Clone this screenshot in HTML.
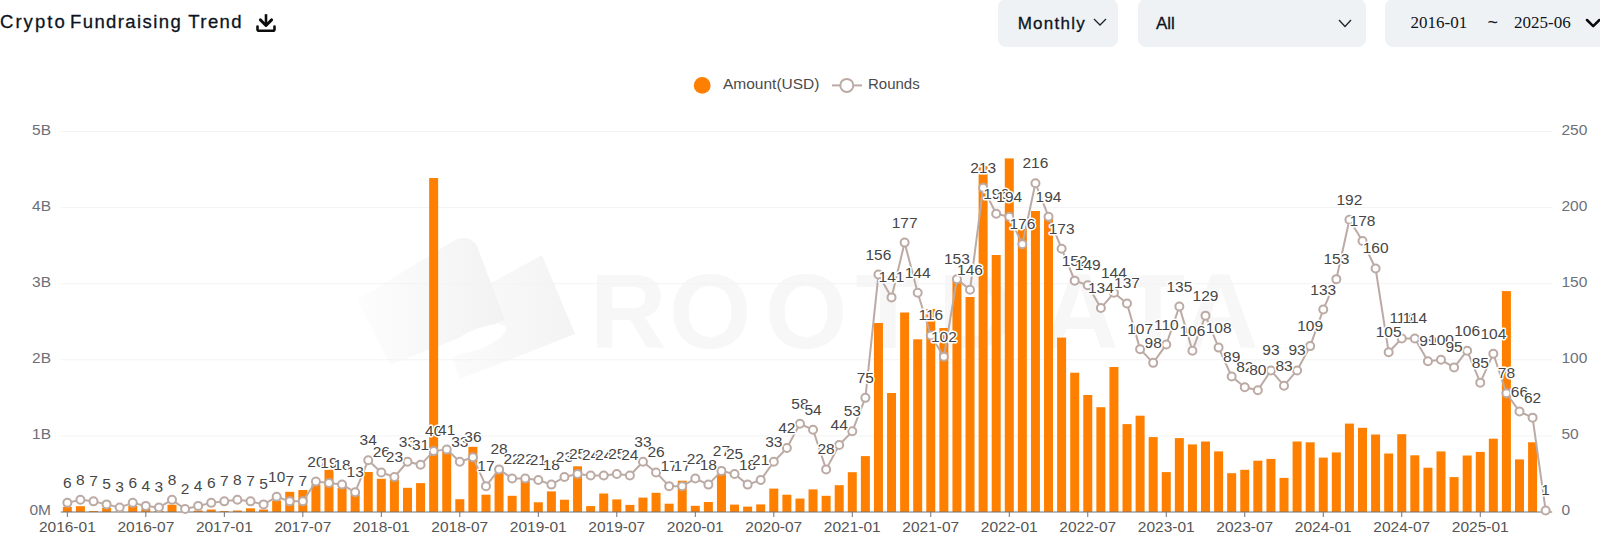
<!DOCTYPE html>
<html><head><meta charset="utf-8"><title>Crypto Fundraising Trend</title>
<style>
html,body{margin:0;padding:0;background:#fff;}
body{width:1600px;height:543px;position:relative;overflow:hidden;font-family:"Liberation Sans",sans-serif;}
.title{position:absolute;left:0px;top:11px;font-size:18.5px;line-height:22px;color:#0c1421;white-space:nowrap;letter-spacing:1.4px;-webkit-text-stroke:0.3px #0c1421}
.dl{position:absolute;left:255px;top:12px;width:22px;height:21px}
.sel{position:absolute;top:-1px;height:48px;background:#eff2f5;border-radius:8px;box-sizing:border-box;color:#0c1421;font-size:17px;line-height:48px;white-space:nowrap}
.sel span{position:absolute;top:0.5px;-webkit-text-stroke:0.3px #0c1421}
.sel svg{position:absolute}
.serif{font-family:"Liberation Serif",serif;font-size:17px;-webkit-text-stroke:0 !important;margin-top:-1px}
</style></head><body>
<div class="title"><span style="letter-spacing:2.05px">Crypto</span><span style="margin-left:-3.3px"> Fundraising Trend</span></div>
<svg class="dl" viewBox="0 0 22 21"><path d="M11 2.2 V12" fill="none" stroke="#0c0c0c" stroke-width="2.6"/><path d="M5.4 7.9 L11 13.5 L16.6 7.9" fill="none" stroke="#0c0c0c" stroke-width="2.9" stroke-linecap="round" stroke-linejoin="round"/><path d="M2.5 14.5 V17.2 Q2.5 18.7 4 18.7 H18 Q19.5 18.7 19.5 17.2 V14.5" fill="none" stroke="#0c0c0c" stroke-width="2.6" stroke-linecap="round" stroke-linejoin="round"/></svg>
<div class="sel" style="left:998.2px;width:120.2px"><span style="left:19.5px;letter-spacing:1.25px">Monthly</span><svg style="left:94.6px;top:19.4px" width="14" height="8" viewBox="0 0 14 8"><path d="M1 1 L7 7 L13 1" fill="none" stroke="#1c2430" stroke-width="1.3"/></svg></div>
<div class="sel" style="left:1138px;width:227.5px"><span style="left:18px">All</span><svg style="left:200px;top:19.5px" width="14" height="9" viewBox="0 0 14 9"><path d="M1 1 L7 7.5 L13 1" fill="none" stroke="#1c2430" stroke-width="1.3"/></svg></div>
<div class="sel" style="left:1385px;width:260px"><span class="serif" style="left:25.5px">2016-01</span><span style="left:102.5px;font-size:18px;-webkit-text-stroke:0;margin-top:-1.5px">~</span><span class="serif" style="left:129px">2025-06</span><svg style="left:200px;top:18px" width="20" height="12" viewBox="0 0 20 12"><path d="M2 3 L8.2 9.2 L14.4 3" fill="none" stroke="#0a0a0a" stroke-width="2.5" stroke-linecap="round" stroke-linejoin="round"/></svg></div>
<svg id="chart" width="1600" height="543" viewBox="0 0 1600 543" style="position:absolute;left:0;top:0">
<defs><linearGradient id="g1" x1="0" x2="1" y1="0" y2="0"><stop offset="0" stop-color="#fdfdfd"/><stop offset="1" stop-color="#f2f2f2"/></linearGradient><linearGradient id="g2" x1="0" x2="1" y1="0" y2="0"><stop offset="0" stop-color="#fbfbfb"/><stop offset="1" stop-color="#f3f3f3"/></linearGradient></defs>
<g id="wm"><path d="M491 283 L542 255 L575 334 L460 379 L452 358 L500 330 Z" fill="url(#g2)"/><path d="M357 300 L455 240 Q470 234 477 246 L505 320 L390 365 Z" fill="url(#g1)"/><ellipse cx="478" cy="339" rx="30" ry="10" transform="rotate(-22 478 339)" fill="#fff"/><text x="590 669 765 855.6 938 1042 1120.6 1182" y="347.5" font-family="Liberation Sans, sans-serif" font-weight="bold" font-size="106" fill="#f7f7f7">ROOTDATA</text></g>
<line x1="60.8" x2="1552.2" y1="435.90" y2="435.90" stroke="#f3f3f5" stroke-width="1"/>
<line x1="60.8" x2="1552.2" y1="359.80" y2="359.80" stroke="#f3f3f5" stroke-width="1"/>
<line x1="60.8" x2="1552.2" y1="283.70" y2="283.70" stroke="#f3f3f5" stroke-width="1"/>
<line x1="60.8" x2="1552.2" y1="207.60" y2="207.60" stroke="#f3f3f5" stroke-width="1"/>
<line x1="60.8" x2="1552.2" y1="131.50" y2="131.50" stroke="#f3f3f5" stroke-width="1"/>
<g fill="#ff8000">
<rect x="62.84" y="507.00" width="9.0" height="5.00"/>
<rect x="75.92" y="506.20" width="9.0" height="5.80"/>
<rect x="89.01" y="511.00" width="9.0" height="1.00"/>
<rect x="102.09" y="508.00" width="9.0" height="4.00"/>
<rect x="115.17" y="511.50" width="9.0" height="0.50"/>
<rect x="128.25" y="506.00" width="9.0" height="6.00"/>
<rect x="141.34" y="509.00" width="9.0" height="3.00"/>
<rect x="154.42" y="511.00" width="9.0" height="1.00"/>
<rect x="167.50" y="504.70" width="9.0" height="7.30"/>
<rect x="193.67" y="510.50" width="9.0" height="1.50"/>
<rect x="206.75" y="509.50" width="9.0" height="2.50"/>
<rect x="219.83" y="511.00" width="9.0" height="1.00"/>
<rect x="232.91" y="510.50" width="9.0" height="1.50"/>
<rect x="246.00" y="508.30" width="9.0" height="3.70"/>
<rect x="259.08" y="509.50" width="9.0" height="2.50"/>
<rect x="272.16" y="500.50" width="9.0" height="11.50"/>
<rect x="285.24" y="491.80" width="9.0" height="20.20"/>
<rect x="298.33" y="490.00" width="9.0" height="22.00"/>
<rect x="311.41" y="484.50" width="9.0" height="27.50"/>
<rect x="324.49" y="469.70" width="9.0" height="42.30"/>
<rect x="337.57" y="488.00" width="9.0" height="24.00"/>
<rect x="350.66" y="494.50" width="9.0" height="17.50"/>
<rect x="363.74" y="472.00" width="9.0" height="40.00"/>
<rect x="376.82" y="478.80" width="9.0" height="33.20"/>
<rect x="389.90" y="479.70" width="9.0" height="32.30"/>
<rect x="402.99" y="487.80" width="9.0" height="24.20"/>
<rect x="416.07" y="483.10" width="9.0" height="28.90"/>
<rect x="429.15" y="178.00" width="9.0" height="334.00"/>
<rect x="442.23" y="451.00" width="9.0" height="61.00"/>
<rect x="455.31" y="499.20" width="9.0" height="12.80"/>
<rect x="468.40" y="446.80" width="9.0" height="65.20"/>
<rect x="481.48" y="494.70" width="9.0" height="17.30"/>
<rect x="494.56" y="472.80" width="9.0" height="39.20"/>
<rect x="507.64" y="495.80" width="9.0" height="16.20"/>
<rect x="520.73" y="479.80" width="9.0" height="32.20"/>
<rect x="533.81" y="502.30" width="9.0" height="9.70"/>
<rect x="546.89" y="491.40" width="9.0" height="20.60"/>
<rect x="559.97" y="499.70" width="9.0" height="12.30"/>
<rect x="573.06" y="466.30" width="9.0" height="45.70"/>
<rect x="586.14" y="506.10" width="9.0" height="5.90"/>
<rect x="599.22" y="493.50" width="9.0" height="18.50"/>
<rect x="612.30" y="499.40" width="9.0" height="12.60"/>
<rect x="625.39" y="504.90" width="9.0" height="7.10"/>
<rect x="638.47" y="497.60" width="9.0" height="14.40"/>
<rect x="651.55" y="492.80" width="9.0" height="19.20"/>
<rect x="664.63" y="503.70" width="9.0" height="8.30"/>
<rect x="677.72" y="480.70" width="9.0" height="31.30"/>
<rect x="690.80" y="505.80" width="9.0" height="6.20"/>
<rect x="703.88" y="502.00" width="9.0" height="10.00"/>
<rect x="716.96" y="474.10" width="9.0" height="37.90"/>
<rect x="730.05" y="504.60" width="9.0" height="7.40"/>
<rect x="743.13" y="506.60" width="9.0" height="5.40"/>
<rect x="756.21" y="504.40" width="9.0" height="7.60"/>
<rect x="769.29" y="488.60" width="9.0" height="23.40"/>
<rect x="782.38" y="494.70" width="9.0" height="17.30"/>
<rect x="795.46" y="498.60" width="9.0" height="13.40"/>
<rect x="808.54" y="489.40" width="9.0" height="22.60"/>
<rect x="821.62" y="495.80" width="9.0" height="16.20"/>
<rect x="834.71" y="485.20" width="9.0" height="26.80"/>
<rect x="847.79" y="472.20" width="9.0" height="39.80"/>
<rect x="860.87" y="456.10" width="9.0" height="55.90"/>
<rect x="873.95" y="323.00" width="9.0" height="189.00"/>
<rect x="887.04" y="393.00" width="9.0" height="119.00"/>
<rect x="900.12" y="312.50" width="9.0" height="199.50"/>
<rect x="913.20" y="339.30" width="9.0" height="172.70"/>
<rect x="926.28" y="309.00" width="9.0" height="203.00"/>
<rect x="939.37" y="328.00" width="9.0" height="184.00"/>
<rect x="952.45" y="281.00" width="9.0" height="231.00"/>
<rect x="965.53" y="297.00" width="9.0" height="215.00"/>
<rect x="978.61" y="166.00" width="9.0" height="346.00"/>
<rect x="991.70" y="255.00" width="9.0" height="257.00"/>
<rect x="1004.78" y="158.40" width="9.0" height="353.60"/>
<rect x="1017.86" y="229.00" width="9.0" height="283.00"/>
<rect x="1030.94" y="211.00" width="9.0" height="301.00"/>
<rect x="1044.03" y="219.00" width="9.0" height="293.00"/>
<rect x="1057.11" y="337.60" width="9.0" height="174.40"/>
<rect x="1070.19" y="372.70" width="9.0" height="139.30"/>
<rect x="1083.27" y="395.00" width="9.0" height="117.00"/>
<rect x="1096.36" y="407.20" width="9.0" height="104.80"/>
<rect x="1109.44" y="367.00" width="9.0" height="145.00"/>
<rect x="1122.52" y="424.10" width="9.0" height="87.90"/>
<rect x="1135.60" y="415.70" width="9.0" height="96.30"/>
<rect x="1148.69" y="437.10" width="9.0" height="74.90"/>
<rect x="1161.77" y="472.10" width="9.0" height="39.90"/>
<rect x="1174.85" y="438.10" width="9.0" height="73.90"/>
<rect x="1187.93" y="444.40" width="9.0" height="67.60"/>
<rect x="1201.01" y="441.50" width="9.0" height="70.50"/>
<rect x="1214.10" y="451.40" width="9.0" height="60.60"/>
<rect x="1227.18" y="473.20" width="9.0" height="38.80"/>
<rect x="1240.26" y="469.80" width="9.0" height="42.20"/>
<rect x="1253.34" y="460.70" width="9.0" height="51.30"/>
<rect x="1266.43" y="458.90" width="9.0" height="53.10"/>
<rect x="1279.51" y="477.90" width="9.0" height="34.10"/>
<rect x="1292.59" y="441.50" width="9.0" height="70.50"/>
<rect x="1305.67" y="442.30" width="9.0" height="69.70"/>
<rect x="1318.76" y="457.60" width="9.0" height="54.40"/>
<rect x="1331.84" y="452.40" width="9.0" height="59.60"/>
<rect x="1344.92" y="423.60" width="9.0" height="88.40"/>
<rect x="1358.00" y="427.80" width="9.0" height="84.20"/>
<rect x="1371.09" y="434.50" width="9.0" height="77.50"/>
<rect x="1384.17" y="453.50" width="9.0" height="58.50"/>
<rect x="1397.25" y="434.20" width="9.0" height="77.80"/>
<rect x="1410.33" y="455.30" width="9.0" height="56.70"/>
<rect x="1423.42" y="467.70" width="9.0" height="44.30"/>
<rect x="1436.50" y="451.40" width="9.0" height="60.60"/>
<rect x="1449.58" y="477.10" width="9.0" height="34.90"/>
<rect x="1462.66" y="455.50" width="9.0" height="56.50"/>
<rect x="1475.75" y="451.90" width="9.0" height="60.10"/>
<rect x="1488.83" y="438.70" width="9.0" height="73.30"/>
<rect x="1501.91" y="291.10" width="9.0" height="220.90"/>
<rect x="1514.99" y="459.40" width="9.0" height="52.60"/>
<rect x="1528.08" y="442.30" width="9.0" height="69.70"/>
</g>
<line x1="60.8" x2="1552.2" y1="512.0" y2="512.0" stroke="#6e7079" stroke-width="1"/>
<line x1="67.34" x2="67.34" y1="512.0" y2="517.0" stroke="#6e7079" stroke-width="1"/>
<line x1="145.84" x2="145.84" y1="512.0" y2="517.0" stroke="#6e7079" stroke-width="1"/>
<line x1="224.33" x2="224.33" y1="512.0" y2="517.0" stroke="#6e7079" stroke-width="1"/>
<line x1="302.83" x2="302.83" y1="512.0" y2="517.0" stroke="#6e7079" stroke-width="1"/>
<line x1="381.32" x2="381.32" y1="512.0" y2="517.0" stroke="#6e7079" stroke-width="1"/>
<line x1="459.81" x2="459.81" y1="512.0" y2="517.0" stroke="#6e7079" stroke-width="1"/>
<line x1="538.31" x2="538.31" y1="512.0" y2="517.0" stroke="#6e7079" stroke-width="1"/>
<line x1="616.80" x2="616.80" y1="512.0" y2="517.0" stroke="#6e7079" stroke-width="1"/>
<line x1="695.30" x2="695.30" y1="512.0" y2="517.0" stroke="#6e7079" stroke-width="1"/>
<line x1="773.79" x2="773.79" y1="512.0" y2="517.0" stroke="#6e7079" stroke-width="1"/>
<line x1="852.29" x2="852.29" y1="512.0" y2="517.0" stroke="#6e7079" stroke-width="1"/>
<line x1="930.78" x2="930.78" y1="512.0" y2="517.0" stroke="#6e7079" stroke-width="1"/>
<line x1="1009.28" x2="1009.28" y1="512.0" y2="517.0" stroke="#6e7079" stroke-width="1"/>
<line x1="1087.77" x2="1087.77" y1="512.0" y2="517.0" stroke="#6e7079" stroke-width="1"/>
<line x1="1166.27" x2="1166.27" y1="512.0" y2="517.0" stroke="#6e7079" stroke-width="1"/>
<line x1="1244.76" x2="1244.76" y1="512.0" y2="517.0" stroke="#6e7079" stroke-width="1"/>
<line x1="1323.26" x2="1323.26" y1="512.0" y2="517.0" stroke="#6e7079" stroke-width="1"/>
<line x1="1401.75" x2="1401.75" y1="512.0" y2="517.0" stroke="#6e7079" stroke-width="1"/>
<line x1="1480.25" x2="1480.25" y1="512.0" y2="517.0" stroke="#6e7079" stroke-width="1"/>
<g font-family="Liberation Sans, sans-serif" font-size="15.5" fill="#6e7079">
<text x="67.34" y="532.0" text-anchor="middle" fill="#555">2016-01</text>
<text x="145.84" y="532.0" text-anchor="middle" fill="#555">2016-07</text>
<text x="224.33" y="532.0" text-anchor="middle" fill="#555">2017-01</text>
<text x="302.83" y="532.0" text-anchor="middle" fill="#555">2017-07</text>
<text x="381.32" y="532.0" text-anchor="middle" fill="#555">2018-01</text>
<text x="459.81" y="532.0" text-anchor="middle" fill="#555">2018-07</text>
<text x="538.31" y="532.0" text-anchor="middle" fill="#555">2019-01</text>
<text x="616.80" y="532.0" text-anchor="middle" fill="#555">2019-07</text>
<text x="695.30" y="532.0" text-anchor="middle" fill="#555">2020-01</text>
<text x="773.79" y="532.0" text-anchor="middle" fill="#555">2020-07</text>
<text x="852.29" y="532.0" text-anchor="middle" fill="#555">2021-01</text>
<text x="930.78" y="532.0" text-anchor="middle" fill="#555">2021-07</text>
<text x="1009.28" y="532.0" text-anchor="middle" fill="#555">2022-01</text>
<text x="1087.77" y="532.0" text-anchor="middle" fill="#555">2022-07</text>
<text x="1166.27" y="532.0" text-anchor="middle" fill="#555">2023-01</text>
<text x="1244.76" y="532.0" text-anchor="middle" fill="#555">2023-07</text>
<text x="1323.26" y="532.0" text-anchor="middle" fill="#555">2024-01</text>
<text x="1401.75" y="532.0" text-anchor="middle" fill="#555">2024-07</text>
<text x="1480.25" y="532.0" text-anchor="middle" fill="#555">2025-01</text>
<text x="51" y="515.20" text-anchor="end">0M</text>
<text x="1561.5" y="515.20">0</text>
<text x="51" y="439.10" text-anchor="end">1B</text>
<text x="1561.5" y="439.10">50</text>
<text x="51" y="363.00" text-anchor="end">2B</text>
<text x="1561.5" y="363.00">100</text>
<text x="51" y="286.90" text-anchor="end">3B</text>
<text x="1561.5" y="286.90">150</text>
<text x="51" y="210.80" text-anchor="end">4B</text>
<text x="1561.5" y="210.80">200</text>
<text x="51" y="134.70" text-anchor="end">5B</text>
<text x="1561.5" y="134.70">250</text>
</g>
<path d="M67.34 502.87 L80.42 499.82 L93.51 501.35 L106.59 504.39 L119.67 507.43 L132.75 502.87 L145.84 505.91 L158.92 507.43 L172.00 499.82 L185.08 508.96 L198.17 505.91 L211.25 502.87 L224.33 501.35 L237.41 499.82 L250.50 501.35 L263.58 504.39 L276.66 496.78 L289.74 501.35 L302.83 501.35 L315.91 481.56 L328.99 483.08 L342.07 484.60 L355.16 492.21 L368.24 460.25 L381.32 472.43 L394.40 476.99 L407.49 461.77 L420.57 464.82 L433.65 451.12 L446.73 449.60 L459.81 461.77 L472.90 457.21 L485.98 486.13 L499.06 469.38 L512.14 478.52 L525.23 478.52 L538.31 480.04 L551.39 484.60 L564.47 476.99 L577.56 473.95 L590.64 475.47 L603.72 475.47 L616.80 473.95 L629.89 475.47 L642.97 461.77 L656.05 472.43 L669.13 486.13 L682.22 486.13 L695.30 478.52 L708.38 484.60 L721.46 470.91 L734.55 473.95 L747.63 484.60 L760.71 480.04 L773.79 461.77 L786.88 448.08 L799.96 423.72 L813.04 429.81 L826.12 469.38 L839.21 445.03 L852.29 431.33 L865.37 397.85 L878.45 274.57 L891.54 297.40 L904.62 242.61 L917.70 292.83 L930.78 335.45 L943.87 356.76 L956.95 279.13 L970.03 289.79 L983.11 187.81 L996.20 213.69 L1009.28 216.73 L1022.36 244.13 L1035.44 183.25 L1048.53 216.73 L1061.61 248.69 L1074.69 280.66 L1087.77 285.22 L1100.86 308.05 L1113.94 292.83 L1127.02 303.49 L1140.10 349.15 L1153.19 362.84 L1166.27 344.58 L1179.35 306.53 L1192.43 350.67 L1205.51 315.66 L1218.60 347.62 L1231.68 376.54 L1244.76 387.20 L1257.84 390.24 L1270.93 370.45 L1284.01 385.67 L1297.09 370.45 L1310.17 346.10 L1323.26 309.57 L1336.34 279.13 L1349.42 219.78 L1362.50 241.08 L1375.59 268.48 L1388.67 352.19 L1401.75 338.49 L1414.83 338.49 L1427.92 361.32 L1441.00 359.80 L1454.08 367.41 L1467.16 350.67 L1480.25 382.63 L1493.33 353.71 L1506.41 393.28 L1519.49 411.55 L1532.58 417.64 L1545.66 510.48" fill="none" stroke="#bcaaa4" stroke-width="2" stroke-linejoin="bevel"/>
<g fill="#fff" stroke="#bcaaa4" stroke-width="2.0">
<circle cx="67.34" cy="502.87" r="4.0"/>
<circle cx="80.42" cy="499.82" r="4.0"/>
<circle cx="93.51" cy="501.35" r="4.0"/>
<circle cx="106.59" cy="504.39" r="4.0"/>
<circle cx="119.67" cy="507.43" r="4.0"/>
<circle cx="132.75" cy="502.87" r="4.0"/>
<circle cx="145.84" cy="505.91" r="4.0"/>
<circle cx="158.92" cy="507.43" r="4.0"/>
<circle cx="172.00" cy="499.82" r="4.0"/>
<circle cx="185.08" cy="508.96" r="4.0"/>
<circle cx="198.17" cy="505.91" r="4.0"/>
<circle cx="211.25" cy="502.87" r="4.0"/>
<circle cx="224.33" cy="501.35" r="4.0"/>
<circle cx="237.41" cy="499.82" r="4.0"/>
<circle cx="250.50" cy="501.35" r="4.0"/>
<circle cx="263.58" cy="504.39" r="4.0"/>
<circle cx="276.66" cy="496.78" r="4.0"/>
<circle cx="289.74" cy="501.35" r="4.0"/>
<circle cx="302.83" cy="501.35" r="4.0"/>
<circle cx="315.91" cy="481.56" r="4.0"/>
<circle cx="328.99" cy="483.08" r="4.0"/>
<circle cx="342.07" cy="484.60" r="4.0"/>
<circle cx="355.16" cy="492.21" r="4.0"/>
<circle cx="368.24" cy="460.25" r="4.0"/>
<circle cx="381.32" cy="472.43" r="4.0"/>
<circle cx="394.40" cy="476.99" r="4.0"/>
<circle cx="407.49" cy="461.77" r="4.0"/>
<circle cx="420.57" cy="464.82" r="4.0"/>
<circle cx="433.65" cy="451.12" r="4.0"/>
<circle cx="446.73" cy="449.60" r="4.0"/>
<circle cx="459.81" cy="461.77" r="4.0"/>
<circle cx="472.90" cy="457.21" r="4.0"/>
<circle cx="485.98" cy="486.13" r="4.0"/>
<circle cx="499.06" cy="469.38" r="4.0"/>
<circle cx="512.14" cy="478.52" r="4.0"/>
<circle cx="525.23" cy="478.52" r="4.0"/>
<circle cx="538.31" cy="480.04" r="4.0"/>
<circle cx="551.39" cy="484.60" r="4.0"/>
<circle cx="564.47" cy="476.99" r="4.0"/>
<circle cx="577.56" cy="473.95" r="4.0"/>
<circle cx="590.64" cy="475.47" r="4.0"/>
<circle cx="603.72" cy="475.47" r="4.0"/>
<circle cx="616.80" cy="473.95" r="4.0"/>
<circle cx="629.89" cy="475.47" r="4.0"/>
<circle cx="642.97" cy="461.77" r="4.0"/>
<circle cx="656.05" cy="472.43" r="4.0"/>
<circle cx="669.13" cy="486.13" r="4.0"/>
<circle cx="682.22" cy="486.13" r="4.0"/>
<circle cx="695.30" cy="478.52" r="4.0"/>
<circle cx="708.38" cy="484.60" r="4.0"/>
<circle cx="721.46" cy="470.91" r="4.0"/>
<circle cx="734.55" cy="473.95" r="4.0"/>
<circle cx="747.63" cy="484.60" r="4.0"/>
<circle cx="760.71" cy="480.04" r="4.0"/>
<circle cx="773.79" cy="461.77" r="4.0"/>
<circle cx="786.88" cy="448.08" r="4.0"/>
<circle cx="799.96" cy="423.72" r="4.0"/>
<circle cx="813.04" cy="429.81" r="4.0"/>
<circle cx="826.12" cy="469.38" r="4.0"/>
<circle cx="839.21" cy="445.03" r="4.0"/>
<circle cx="852.29" cy="431.33" r="4.0"/>
<circle cx="865.37" cy="397.85" r="4.0"/>
<circle cx="878.45" cy="274.57" r="4.0"/>
<circle cx="891.54" cy="297.40" r="4.0"/>
<circle cx="904.62" cy="242.61" r="4.0"/>
<circle cx="917.70" cy="292.83" r="4.0"/>
<circle cx="930.78" cy="335.45" r="4.0"/>
<circle cx="943.87" cy="356.76" r="4.0"/>
<circle cx="956.95" cy="279.13" r="4.0"/>
<circle cx="970.03" cy="289.79" r="4.0"/>
<circle cx="983.11" cy="187.81" r="4.0"/>
<circle cx="996.20" cy="213.69" r="4.0"/>
<circle cx="1009.28" cy="216.73" r="4.0"/>
<circle cx="1022.36" cy="244.13" r="4.0"/>
<circle cx="1035.44" cy="183.25" r="4.0"/>
<circle cx="1048.53" cy="216.73" r="4.0"/>
<circle cx="1061.61" cy="248.69" r="4.0"/>
<circle cx="1074.69" cy="280.66" r="4.0"/>
<circle cx="1087.77" cy="285.22" r="4.0"/>
<circle cx="1100.86" cy="308.05" r="4.0"/>
<circle cx="1113.94" cy="292.83" r="4.0"/>
<circle cx="1127.02" cy="303.49" r="4.0"/>
<circle cx="1140.10" cy="349.15" r="4.0"/>
<circle cx="1153.19" cy="362.84" r="4.0"/>
<circle cx="1166.27" cy="344.58" r="4.0"/>
<circle cx="1179.35" cy="306.53" r="4.0"/>
<circle cx="1192.43" cy="350.67" r="4.0"/>
<circle cx="1205.51" cy="315.66" r="4.0"/>
<circle cx="1218.60" cy="347.62" r="4.0"/>
<circle cx="1231.68" cy="376.54" r="4.0"/>
<circle cx="1244.76" cy="387.20" r="4.0"/>
<circle cx="1257.84" cy="390.24" r="4.0"/>
<circle cx="1270.93" cy="370.45" r="4.0"/>
<circle cx="1284.01" cy="385.67" r="4.0"/>
<circle cx="1297.09" cy="370.45" r="4.0"/>
<circle cx="1310.17" cy="346.10" r="4.0"/>
<circle cx="1323.26" cy="309.57" r="4.0"/>
<circle cx="1336.34" cy="279.13" r="4.0"/>
<circle cx="1349.42" cy="219.78" r="4.0"/>
<circle cx="1362.50" cy="241.08" r="4.0"/>
<circle cx="1375.59" cy="268.48" r="4.0"/>
<circle cx="1388.67" cy="352.19" r="4.0"/>
<circle cx="1401.75" cy="338.49" r="4.0"/>
<circle cx="1414.83" cy="338.49" r="4.0"/>
<circle cx="1427.92" cy="361.32" r="4.0"/>
<circle cx="1441.00" cy="359.80" r="4.0"/>
<circle cx="1454.08" cy="367.41" r="4.0"/>
<circle cx="1467.16" cy="350.67" r="4.0"/>
<circle cx="1480.25" cy="382.63" r="4.0"/>
<circle cx="1493.33" cy="353.71" r="4.0"/>
<circle cx="1506.41" cy="393.28" r="4.0"/>
<circle cx="1519.49" cy="411.55" r="4.0"/>
<circle cx="1532.58" cy="417.64" r="4.0"/>
<circle cx="1545.66" cy="510.48" r="4.0"/>
</g>
<g font-family="Liberation Sans, sans-serif" font-size="15.5" fill="#464646" stroke="#fff" stroke-width="3" stroke-linejoin="round" paint-order="stroke" text-anchor="middle">
<text x="67.34" y="487.87">6</text>
<text x="80.42" y="484.82">8</text>
<text x="93.51" y="486.35">7</text>
<text x="106.59" y="489.39">5</text>
<text x="119.67" y="492.43">3</text>
<text x="132.75" y="487.87">6</text>
<text x="145.84" y="490.91">4</text>
<text x="158.92" y="492.43">3</text>
<text x="172.00" y="484.82">8</text>
<text x="185.08" y="493.96">2</text>
<text x="198.17" y="490.91">4</text>
<text x="211.25" y="487.87">6</text>
<text x="224.33" y="486.35">7</text>
<text x="237.41" y="484.82">8</text>
<text x="250.50" y="486.35">7</text>
<text x="263.58" y="489.39">5</text>
<text x="276.66" y="481.78">10</text>
<text x="289.74" y="486.35">7</text>
<text x="302.83" y="486.35">7</text>
<text x="315.91" y="466.56">20</text>
<text x="328.99" y="468.08">19</text>
<text x="342.07" y="469.60">18</text>
<text x="355.16" y="477.21">13</text>
<text x="368.24" y="445.25">34</text>
<text x="381.32" y="457.43">26</text>
<text x="394.40" y="461.99">23</text>
<text x="407.49" y="446.77">33</text>
<text x="420.57" y="449.82">31</text>
<text x="433.65" y="436.12">40</text>
<text x="446.73" y="434.60">41</text>
<text x="459.81" y="446.77">33</text>
<text x="472.90" y="442.21">36</text>
<text x="485.98" y="471.13">17</text>
<text x="499.06" y="454.38">28</text>
<text x="512.14" y="463.52">22</text>
<text x="525.23" y="463.52">22</text>
<text x="538.31" y="465.04">21</text>
<text x="551.39" y="469.60">18</text>
<text x="564.47" y="461.99">23</text>
<text x="577.56" y="458.95">25</text>
<text x="590.64" y="460.47">24</text>
<text x="603.72" y="460.47">24</text>
<text x="616.80" y="458.95">25</text>
<text x="629.89" y="460.47">24</text>
<text x="642.97" y="446.77">33</text>
<text x="656.05" y="457.43">26</text>
<text x="669.13" y="471.13">17</text>
<text x="682.22" y="471.13">17</text>
<text x="695.30" y="463.52">22</text>
<text x="708.38" y="469.60">18</text>
<text x="721.46" y="455.91">27</text>
<text x="734.55" y="458.95">25</text>
<text x="747.63" y="469.60">18</text>
<text x="760.71" y="465.04">21</text>
<text x="773.79" y="446.77">33</text>
<text x="786.88" y="433.08">42</text>
<text x="799.96" y="408.72">58</text>
<text x="813.04" y="414.81">54</text>
<text x="826.12" y="454.38">28</text>
<text x="839.21" y="430.03">44</text>
<text x="852.29" y="416.33">53</text>
<text x="865.37" y="382.85">75</text>
<text x="878.45" y="259.57">156</text>
<text x="891.54" y="282.40">141</text>
<text x="904.62" y="227.61">177</text>
<text x="917.70" y="277.83">144</text>
<text x="930.78" y="320.45">116</text>
<text x="943.87" y="341.76">102</text>
<text x="956.95" y="264.13">153</text>
<text x="970.03" y="274.79">146</text>
<text x="983.11" y="172.81">213</text>
<text x="996.20" y="198.69">196</text>
<text x="1009.28" y="201.73">194</text>
<text x="1022.36" y="229.13">176</text>
<text x="1035.44" y="168.25">216</text>
<text x="1048.53" y="201.73">194</text>
<text x="1061.61" y="233.69">173</text>
<text x="1074.69" y="265.66">152</text>
<text x="1087.77" y="270.22">149</text>
<text x="1100.86" y="293.05">134</text>
<text x="1113.94" y="277.83">144</text>
<text x="1127.02" y="288.49">137</text>
<text x="1140.10" y="334.15">107</text>
<text x="1153.19" y="347.84">98</text>
<text x="1166.27" y="329.58">110</text>
<text x="1179.35" y="291.53">135</text>
<text x="1192.43" y="335.67">106</text>
<text x="1205.51" y="300.66">129</text>
<text x="1218.60" y="332.62">108</text>
<text x="1231.68" y="361.54">89</text>
<text x="1244.76" y="372.20">82</text>
<text x="1257.84" y="375.24">80</text>
<text x="1270.93" y="355.45">93</text>
<text x="1284.01" y="370.67">83</text>
<text x="1297.09" y="355.45">93</text>
<text x="1310.17" y="331.10">109</text>
<text x="1323.26" y="294.57">133</text>
<text x="1336.34" y="264.13">153</text>
<text x="1349.42" y="204.78">192</text>
<text x="1362.50" y="226.08">178</text>
<text x="1375.59" y="253.48">160</text>
<text x="1388.67" y="337.19">105</text>
<text x="1401.75" y="323.49">114</text>
<text x="1414.83" y="323.49">114</text>
<text x="1427.92" y="346.32">99</text>
<text x="1441.00" y="344.80">100</text>
<text x="1454.08" y="352.41">95</text>
<text x="1467.16" y="335.67">106</text>
<text x="1480.25" y="367.63">85</text>
<text x="1493.33" y="338.71">104</text>
<text x="1506.41" y="378.28">78</text>
<text x="1519.49" y="396.55">66</text>
<text x="1532.58" y="402.64">62</text>
<text x="1545.66" y="495.48">1</text>
</g>
<circle cx="702.2" cy="85.4" r="8.4" fill="#ff8000"/>
<line x1="832" x2="862" y1="85.4" y2="85.4" stroke="#bcaaa4" stroke-width="2"/>
<circle cx="846.8" cy="85.4" r="6.5" fill="#fff" stroke="#bcaaa4" stroke-width="2"/>
<g font-family="Liberation Sans, sans-serif" font-size="15.5" fill="#4a4a4a"><text x="723" y="88.6">Amount(USD)</text><text x="868" y="88.6" font-size="15">Rounds</text></g>
</svg>
</body></html>
